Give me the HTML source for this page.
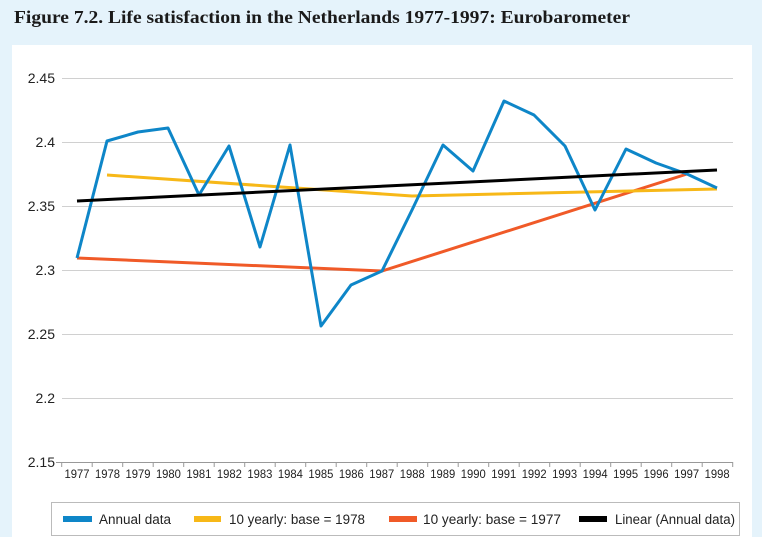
<!DOCTYPE html>
<html><head><style>
html,body{margin:0;padding:0;width:762px;height:537px;overflow:hidden;background:#e5f3fb;}
</style></head><body>
<svg width="762" height="537" xmlns="http://www.w3.org/2000/svg" style="position:absolute;left:0;top:0">
<text x="14" y="23" font-family="Liberation Serif, serif" font-size="18" font-weight="bold" fill="#1a1a1a" textLength="616" lengthAdjust="spacingAndGlyphs">Figure 7.2. Life satisfaction in the Netherlands 1977-1997: Eurobarometer</text>
<rect x="12" y="45" width="740" height="492" fill="#fff"/>
<g stroke="#d0d0d0" stroke-width="1">
<line x1="62" y1="78.5" x2="733" y2="78.5"/>
<line x1="62" y1="142.5" x2="733" y2="142.5"/>
<line x1="62" y1="206.5" x2="733" y2="206.5"/>
<line x1="62" y1="270.5" x2="733" y2="270.5"/>
<line x1="62" y1="334.5" x2="733" y2="334.5"/>
<line x1="62" y1="398.5" x2="733" y2="398.5"/>
</g>
<line x1="56" y1="462.5" x2="733" y2="462.5" stroke="#999" stroke-width="1"/>
<g font-family="Liberation Sans, sans-serif" font-size="14" fill="#222" text-anchor="end">
<text x="55" y="83">2.45</text><text x="55" y="147">2.4</text><text x="55" y="211">2.35</text>
<text x="55" y="275">2.3</text><text x="55" y="339">2.25</text><text x="55" y="403">2.2</text><text x="55" y="467">2.15</text>
</g>
<g id="ticks" stroke="#999"></g>
<g id="xl" font-family="Liberation Sans, sans-serif" font-size="12" fill="#222" text-anchor="middle"></g>
<polyline fill="none" stroke="#f05a28" stroke-width="3" points="77,258 382,271 687,174"/>
<polyline fill="none" stroke="#f7b818" stroke-width="3" points="107,175 412,196 717,189"/>
<polyline fill="none" stroke="#0e86c8" stroke-width="3" stroke-linejoin="round" points="77,258 107,141 138,132 168,128 199,195 229,146 260,247 290,145 321,326 351,285 382,271 412,210 443,145 473,171 504,101 534,115 565,146 595,210 626,149 656,163 687,174 717,188"/>
<line x1="77" y1="201" x2="717" y2="170" stroke="#000" stroke-width="3"/>
<rect x="51.5" y="502.5" width="688" height="33" fill="#fff" stroke="#bbb"/>
<g font-family="Liberation Sans, sans-serif" font-size="13.5" fill="#222" lengthAdjust="spacingAndGlyphs">
<rect x="63" y="516" width="29" height="6" fill="#0e86c8"/><text x="99" y="524" textLength="72" lengthAdjust="spacingAndGlyphs">Annual data</text>
<rect x="194" y="516" width="27" height="6" fill="#f7b818"/><text x="229" y="524" textLength="136" lengthAdjust="spacingAndGlyphs">10 yearly: base = 1978</text>
<rect x="389" y="516" width="28" height="6" fill="#f05a28"/><text x="423" y="524" textLength="138" lengthAdjust="spacingAndGlyphs">10 yearly: base = 1977</text>
<rect x="579" y="516" width="28" height="6" fill="#000"/><text x="615" y="524" textLength="120" lengthAdjust="spacingAndGlyphs">Linear (Annual data)</text>
</g>
<script>
var t=document.getElementById('ticks'),x=document.getElementById('xl'),ns='http://www.w3.org/2000/svg';
for(var i=0;i<=22;i++){var l=document.createElementNS(ns,'line');var px=61.7+i*30.5;l.setAttribute('x1',px);l.setAttribute('x2',px);l.setAttribute('y1',462);l.setAttribute('y2',467);t.appendChild(l);}
for(var i=0;i<22;i++){var e=document.createElementNS(ns,'text');e.setAttribute('x',77+i*30.48);e.setAttribute('y',478);e.setAttribute('textLength',25);e.setAttribute('lengthAdjust','spacingAndGlyphs');e.textContent=1977+i;x.appendChild(e);}
</script>
</svg>
</body></html>
